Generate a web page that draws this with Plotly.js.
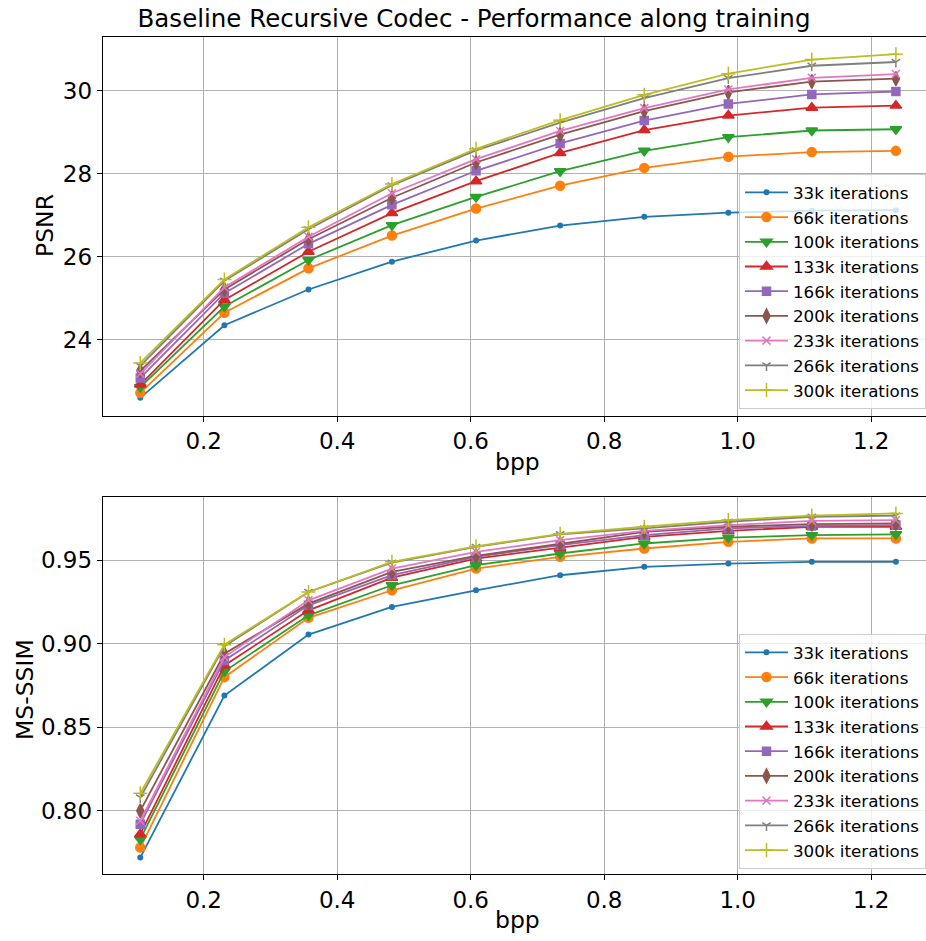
<!DOCTYPE html>
<html>
<head>
<meta charset="utf-8">
<script src="https://cdn.plot.ly/plotly-3.0.1.min.js"></script>
<style>html,body{margin:0;padding:0;background:#fff;}#chart{width:926px;height:941px;}</style>
</head>
<body>
<div id="chart"></div>
<script>
const bpp = [0.105, 0.231, 0.357, 0.482, 0.608, 0.734, 0.860, 0.986, 1.111, 1.237];
const seriesNames = ["33k iterations", "66k iterations", "100k iterations", "133k iterations",
  "166k iterations", "200k iterations", "233k iterations", "266k iterations", "300k iterations"];

const psnr33k  = [22.60, 24.35, 25.21, 25.88, 26.39, 26.75, 26.96, 27.06, 27.11, 27.12];
const psnr66k  = [22.72, 24.65, 25.72, 26.51, 27.16, 27.71, 28.14, 28.41, 28.52, 28.55];
const psnr100k = [22.86, 24.80, 25.92, 26.76, 27.44, 28.06, 28.55, 28.88, 29.04, 29.07];
const psnr133k = [22.92, 24.96, 26.12, 27.05, 27.82, 28.50, 29.05, 29.40, 29.59, 29.64];
const psnr166k = [23.08, 25.12, 26.31, 27.25, 28.07, 28.73, 29.28, 29.68, 29.91, 29.98];
const psnr200k = [23.25, 25.21, 26.42, 27.42, 28.27, 28.94, 29.51, 29.96, 30.22, 30.29];
const psnr233k = [23.18, 25.26, 26.48, 27.53, 28.35, 29.03, 29.58, 30.03, 30.31, 30.40];
const psnr266k = [23.37, 25.42, 26.66, 27.72, 28.56, 29.23, 29.82, 30.30, 30.60, 30.69];
const psnr300k = [23.44, 25.45, 26.71, 27.75, 28.60, 29.29, 29.90, 30.41, 30.75, 30.88];

const ssim33k  = [0.772, 0.869, 0.9055, 0.922, 0.932, 0.941, 0.946, 0.948, 0.949, 0.949];
const ssim66k  = [0.778, 0.880, 0.9155, 0.932, 0.945, 0.952, 0.957, 0.961, 0.963, 0.963];
const ssim100k = [0.783, 0.8835, 0.917, 0.935, 0.947, 0.954, 0.960, 0.9635, 0.965, 0.9655];
const ssim133k = [0.786, 0.887, 0.920, 0.9395, 0.951, 0.9575, 0.964, 0.9675, 0.970, 0.970];
const ssim166k = [0.792, 0.890, 0.923, 0.941, 0.952, 0.959, 0.965, 0.969, 0.9705, 0.971];
const ssim200k = [0.800, 0.894, 0.924, 0.943, 0.9526, 0.960, 0.967, 0.970, 0.9716, 0.972];
const ssim233k = [0.794, 0.892, 0.926, 0.945, 0.955, 0.962, 0.9675, 0.971, 0.9735, 0.974];
const ssim266k = [0.808, 0.8985, 0.931, 0.9485, 0.958, 0.9655, 0.969, 0.973, 0.976, 0.9767];
const ssim300k = [0.8105, 0.8994, 0.931, 0.949, 0.9583, 0.9658, 0.970, 0.974, 0.9767, 0.978];

const psnrSeries = [psnr33k, psnr66k, psnr100k, psnr133k, psnr166k, psnr200k, psnr233k, psnr266k, psnr300k];
const ssimSeries = [ssim33k, ssim66k, ssim100k, ssim133k, ssim166k, ssim200k, ssim233k, ssim266k, ssim300k];

const colors = ["#1f77b4", "#ff7f0e", "#2ca02c", "#d62728", "#9467bd", "#8c564b", "#e377c2", "#7f7f7f", "#bcbd22"];
const symbols = ["circle", "circle", "triangle-down", "triangle-up", "square", "diamond-tall", "x-thin-open", "y-down-open", "cross-thin-open"];
const sizes = [4.5, 9, 10, 10, 8, 10, 8, 7, 10];

const FONT = "DejaVu Sans, sans-serif";
const traces = [];
function addTraces(ySeries, xa, ya, legendName) {
  ySeries.forEach((ys, i) => {
    traces.push({
      type: "scatter", mode: "lines+markers",
      x: bpp, y: ys, name: seriesNames[i],
      xaxis: xa, yaxis: ya, legend: legendName,
      line: {color: colors[i], width: 1.8},
      marker: {color: colors[i], symbol: symbols[i], size: sizes[i],
               line: {color: colors[i], width: 1.5}}
    });
  });
}
addTraces(psnrSeries, "x", "y", "legend");
addTraces(ssimSeries, "x2", "y2", "legend2");

const H = 941, W = 926;
const xCommon = {
  range: [0.0487, 1.2821], tick0: 0, dtick: 0.2, tickformat: ".1f",
  showline: true, linecolor: "#000", linewidth: 1, mirror: true,
  ticks: "outside", ticklen: 5, tickcolor: "#000", tickwidth: 1,
  showgrid: true, gridcolor: "#b0b0b0", gridwidth: 1, zeroline: false,
  tickfont: {family: FONT, size: 23, color: "#000"}, automargin: false,
  domain: [102.7 / W, 1]
};
const yCommon = {
  showline: true, linecolor: "#000", linewidth: 1, mirror: false,
  ticks: "outside", ticklen: 5, tickcolor: "#000", tickwidth: 1,
  showgrid: true, gridcolor: "#b0b0b0", gridwidth: 1, zeroline: false,
  tickfont: {family: FONT, size: 23, color: "#000"}, automargin: false
};
const legendCommon = {
  xanchor: "left", yanchor: "top", x: 739 / W,
  bgcolor: "rgba(255,255,255,0.8)", bordercolor: "#cccccc", borderwidth: 1,
  font: {family: FONT, size: 16.7, color: "#000"}, itemwidth: 43
};

const layout = {
  width: W, height: H,
  margin: {l: 0, r: 0, t: 0, b: 0},
  paper_bgcolor: "#fff", plot_bgcolor: "#fff",
  showlegend: true,
  font: {family: FONT, color: "#000"},
  title: {text: "Baseline Recursive Codec - Performance along training",
          x: 474 / W, xanchor: "center", xref: "paper",
          y: 1 - 18 / H, yanchor: "middle", yref: "container",
          font: {family: FONT, size: 24.5, color: "#000"}},
  xaxis: Object.assign({}, xCommon, {anchor: "y"}),
  yaxis: Object.assign({}, yCommon, {anchor: "x", domain: [1 - 415.7 / H, 1 - 36.7 / H],
         range: [22.17, 31.30], tick0: 0, dtick: 2}),
  xaxis2: Object.assign({}, xCommon, {anchor: "y2"}),
  yaxis2: Object.assign({}, yCommon, {anchor: "x2", domain: [1 - 874.3 / H, 1 - 496.7 / H],
         range: [0.762, 0.988], tick0: 0, dtick: 0.05, tickformat: ".2f"}),
  legend: Object.assign({}, legendCommon, {y: 1 - 174 / H}),
  legend2: Object.assign({}, legendCommon, {y: 1 - 634 / H}),
  annotations: [
    {text: "bpp", xref: "paper", yref: "paper", x: (102.7 + 932) / 2 / W, y: 1 - 462 / H,
     xanchor: "center", yanchor: "middle", showarrow: false, font: {family: FONT, size: 23.5, color: "#000"}},
    {text: "bpp", xref: "paper", yref: "paper", x: (102.7 + 932) / 2 / W, y: 1 - 920 / H,
     xanchor: "center", yanchor: "middle", showarrow: false, font: {family: FONT, size: 23.5, color: "#000"}},
    {text: "PSNR", xref: "paper", yref: "paper", x: 45 / W, y: 1 - 226 / H, textangle: -90,
     xanchor: "center", yanchor: "middle", showarrow: false, font: {family: FONT, size: 23.5, color: "#000"}},
    {text: "MS-SSIM", xref: "paper", yref: "paper", x: 25 / W, y: 1 - 690 / H, textangle: -90,
     xanchor: "center", yanchor: "middle", showarrow: false, font: {family: FONT, size: 23.5, color: "#000"}}
  ]
};

Plotly.newPlot("chart", traces, layout, {displayModeBar: false, staticPlot: true});
</script>
</body>
</html>
